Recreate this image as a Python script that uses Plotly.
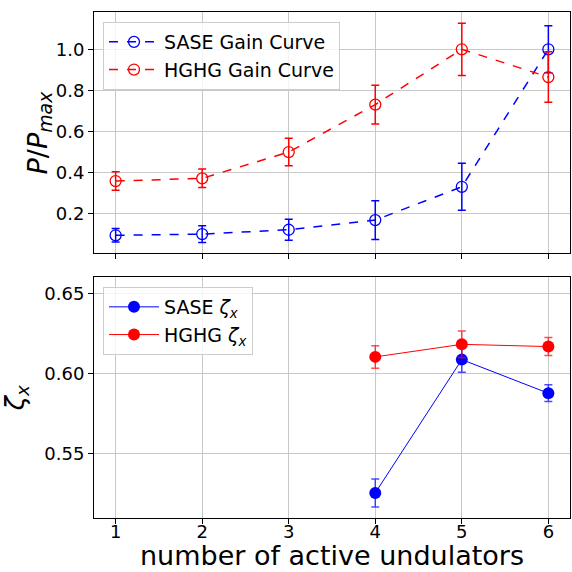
import plotly.graph_objects as go

undulators = [1, 2, 3, 4, 5, 6]
sase_gain = [0.095, 0.101, 0.122, 0.169, 0.331, 1.0]
sase_gain_err = [0.033, 0.041, 0.051, 0.094, 0.114, 0.114]
hghg_gain = [0.359, 0.372, 0.500, 0.731, 1.0, 0.865]
hghg_gain_err = [0.045, 0.045, 0.067, 0.094, 0.127, 0.123]

zeta_x_pos = [4, 5, 6]
sase_zeta = [0.5258, 0.6087, 0.5878]
sase_zeta_err = [0.0087, 0.0079, 0.0052]
hghg_zeta = [0.6104, 0.6182, 0.6168]
hghg_zeta_err = [0.0070, 0.0083, 0.0056]

BLUE = "#0000ff"
RED = "#ff0000"
FONT = "DejaVu Sans"

fig = go.Figure()

fig.add_trace(go.Scatter(
    x=undulators, y=sase_gain, name="SASE Gain Curve", mode="lines+markers",
    line=dict(color=BLUE, width=1.5, dash="dash"),
    marker=dict(symbol="circle-open", size=11, color=BLUE, line=dict(width=1.3)),
    error_y=dict(type="data", array=sase_gain_err, color=BLUE, thickness=1.5, width=4),
    xaxis="x", yaxis="y", legend="legend"))
fig.add_trace(go.Scatter(
    x=undulators, y=hghg_gain, name="HGHG Gain Curve", mode="lines+markers",
    line=dict(color=RED, width=1.5, dash="dash"),
    marker=dict(symbol="circle-open", size=11, color=RED, line=dict(width=1.3)),
    error_y=dict(type="data", array=hghg_gain_err, color=RED, thickness=1.5, width=4),
    xaxis="x", yaxis="y", legend="legend"))

fig.add_trace(go.Scatter(
    x=zeta_x_pos, y=sase_zeta, name="SASE <i>ζ</i><sub><i>x</i></sub>", mode="lines+markers",
    line=dict(color=BLUE, width=1),
    marker=dict(symbol="circle", size=12, color=BLUE),
    error_y=dict(type="data", array=sase_zeta_err, color="rgba(0,0,255,0.7)", thickness=1.5, width=4),
    xaxis="x2", yaxis="y2", legend="legend2"))
fig.add_trace(go.Scatter(
    x=zeta_x_pos, y=hghg_zeta, name="HGHG <i>ζ</i><sub><i>x</i></sub>", mode="lines+markers",
    line=dict(color=RED, width=1),
    marker=dict(symbol="circle", size=12, color=RED),
    error_y=dict(type="data", array=hghg_zeta_err, color="rgba(255,0,0,0.7)", thickness=1.5, width=4),
    xaxis="x2", yaxis="y2", legend="legend2"))

xdom = [94 / 572, 570 / 572]
top_dom = [1 - 253 / 572, 1 - 12 / 572]
axis_common = dict(showline=True, linecolor="black", linewidth=1, mirror=True,
                   ticks="outside", ticklen=5, tickcolor="black",
                   showgrid=True, gridcolor="#c8c8c8", gridwidth=1, zeroline=False,
                   tickfont=dict(family=FONT, size=18, color="black"))

fig.update_layout(
    width=572, height=572,
    margin=dict(l=0, r=0, t=0, b=0),
    paper_bgcolor="white", plot_bgcolor="white",
    font=dict(family=FONT, color="black"),
    xaxis=dict(domain=xdom, anchor="y", range=[0.75, 6.25], tickvals=undulators,
               showticklabels=False, **axis_common),
    yaxis=dict(domain=top_dom, anchor="x", range=[0.0088, 1.1815],
               tickvals=[0.2, 0.4, 0.6, 0.8, 1.0], ticktext=["0.2", "0.4", "0.6", "0.8", "1.0"],
               **axis_common),
    xaxis2=dict(domain=xdom, anchor="y2", range=[0.75, 6.25], tickvals=undulators,
                ticklabelstandoff=-8, **axis_common),
    yaxis2=dict(domain=[1 - 518.3 / 572, 1 - 277.3 / 572], anchor="x2", range=[0.510, 0.6599],
                tickvals=[0.55, 0.60, 0.65], ticktext=["0.55", "0.60", "0.65"],
                title=dict(text="<i>ζ</i><sub><i>x</i></sub>", font=dict(family=FONT, size=26)),
                **axis_common),
    legend=dict(x=103 / 572, y=1 - 22 / 572, xanchor="left", yanchor="top",
                bgcolor="rgba(255,255,255,0.8)", bordercolor="#cccccc", borderwidth=1,
                font=dict(family=FONT, size=19), tracegroupgap=0, itemwidth=50),
    legend2=dict(x=103 / 572, y=1 - 287 / 572, xanchor="left", yanchor="top",
                 bgcolor="rgba(255,255,255,0.8)", bordercolor="#cccccc", borderwidth=1,
                 font=dict(family=FONT, size=19), tracegroupgap=0, itemwidth=50),
    showlegend=True,
    annotations=[
        dict(text="number of active undulators", xref="paper", yref="paper",
             x=(xdom[0] + xdom[1]) / 2, y=0, xanchor="center", yanchor="bottom",
             borderpad=0, showarrow=False,
             font=dict(family=FONT, size=27, color="black")),
        dict(text="<i>P</i>/<i>P</i><sub><i>max</i></sub>", xref="paper", yref="paper",
             x=39 / 572, y=(top_dom[0] + top_dom[1]) / 2, xanchor="center", yanchor="middle",
             textangle=-90, showarrow=False,
             font=dict(family=FONT, size=27, color="black")),
    ],
)

fig.write_html("out.html")
